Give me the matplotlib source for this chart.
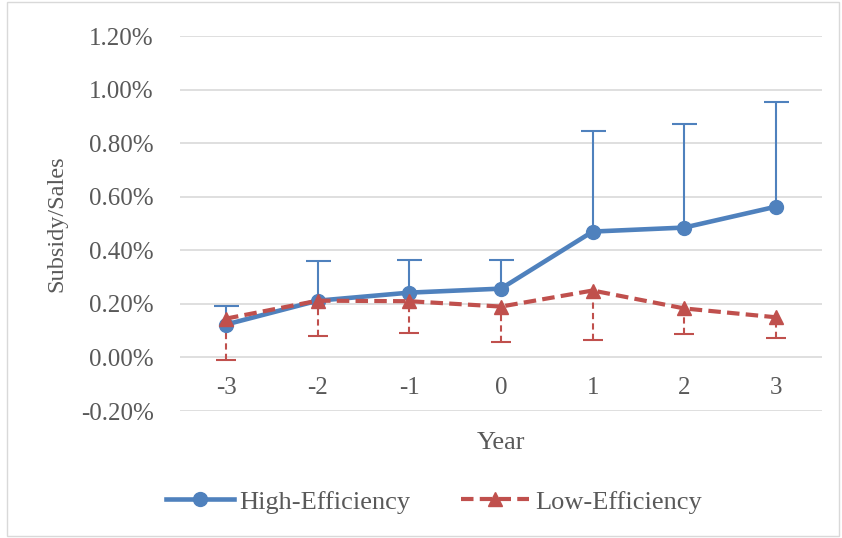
import matplotlib.pyplot as plt
from matplotlib.ticker import FuncFormatter
import numpy as np

years = [-3, -2, -1, 0, 1, 2, 3]
high_eff = [0.123, 0.212, 0.242, 0.257, 0.470, 0.485, 0.563]
high_err = [0.071, 0.150, 0.123, 0.108, 0.376, 0.388, 0.392]
low_eff = [0.145, 0.212, 0.210, 0.190, 0.250, 0.183, 0.150]
low_err = [0.155, 0.133, 0.117, 0.134, 0.183, 0.097, 0.079]

blue = '#4F81BD'
red = '#C0504D'
gray = '#595959'

plt.rcParams['font.family'] = ['Liberation Serif', 'DejaVu Serif']
plt.rcParams['axes.unicode_minus'] = False

fig = plt.figure(figsize=(8.42, 5.38), dpi=100)
ax = fig.add_axes([0.214, 0.236, 0.762, 0.697])

# upper error bars for high, lower error bars for low
eb1 = ax.errorbar(years, high_eff, yerr=[np.zeros(len(years)), high_err], fmt='none',
                  ecolor=blue, elinewidth=1.5, capsize=9, capthick=1.5, zorder=3)
eb1[1][0].set_visible(False)  # no cap at the point itself
eb2 = ax.errorbar(years, low_eff, yerr=[low_err, np.zeros(len(years))], fmt='none',
                  ecolor=red, elinewidth=1.5, capsize=7, capthick=1.5, zorder=3)
eb2[1][1].set_visible(False)
for lc in eb2[2]:
    lc.set_linestyle((0, (3, 2)))

ax.plot(years, high_eff, color=blue, lw=3.3, marker='o', markersize=10,
        label='High-Efficiency', zorder=4)
ax.plot(years, low_eff, color=red, lw=3.0, ls=(0, (3, 1.5)), marker='^', markersize=10,
        label='Low-Efficiency', zorder=5)

ax.set_xlim(-3.5, 3.5)
ax.set_ylim(-0.2, 1.2)
ax.set_yticks(np.arange(-0.2, 1.21, 0.2))
ax.yaxis.set_major_formatter(FuncFormatter(lambda v, p: f'{v:.2f}%'))
ax.set_xticks(years)
ax.grid(axis='y', color='#d9d9d9', lw=1.2)
ax.set_axisbelow(True)
ax.spines['bottom'].set_position(('data', 0))
for s in ax.spines.values():
    s.set_visible(False)
ax.tick_params(length=0, labelsize=18, colors=gray)
ax.tick_params(axis='y', pad=19)
ax.tick_params(axis='x', pad=14)
ax.set_ylabel('Subsidy/Sales', fontsize=17.5, color=gray)
ax.yaxis.set_label_coords(-0.176, 0.5)
ax.set_xlabel('Year', fontsize=19, color=gray)
ax.xaxis.set_label_coords(0.5, -0.055)

leg = fig.legend(loc='center', bbox_to_anchor=(0.515, 0.067), ncol=2, frameon=False,
                 fontsize=19, handlelength=2.6, columnspacing=1.9, handletextpad=0.2)
for t in leg.get_texts():
    t.set_color(gray)

fig.patches.append(plt.Rectangle((0.008, 0.004), 0.988, 0.992, transform=fig.transFigure,
                                 fill=False, edgecolor='#d9d9d9', lw=1))

fig.savefig('out.png', dpi=100)
